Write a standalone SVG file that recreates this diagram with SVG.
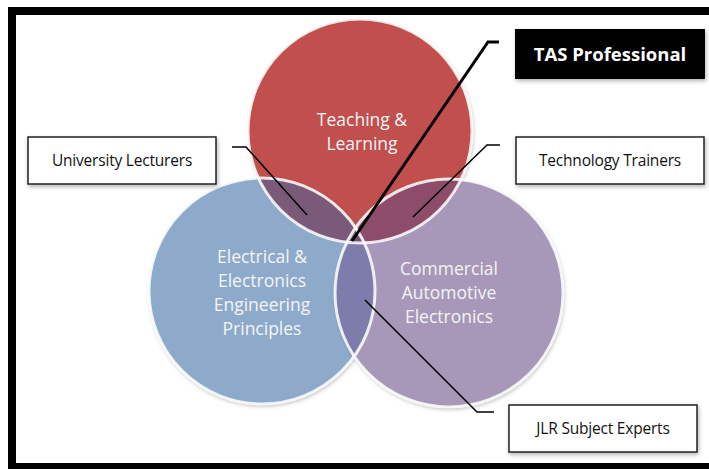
<svg xmlns="http://www.w3.org/2000/svg" width="709" height="469" viewBox="0 0 709 469">
<defs>
<style>
.lbl{font-family:"Open Sans","Liberation Sans",sans-serif;font-size:15.5px;fill:#111;text-anchor:middle;letter-spacing:-0.2px}
.ct{font-family:"Open Sans","Liberation Sans",sans-serif;font-size:17.5px;fill:#f4f4f4;text-anchor:middle}
.box{fill:#fff;stroke:#222;stroke-width:1.5}
.ring{fill:none;stroke:#fff;stroke-opacity:0.85;stroke-width:3}
.con{fill:none;stroke:#000;stroke-width:1.5}
.con.thick{stroke-width:3}
</style>
<filter id="sh" x="-10%" y="-10%" width="130%" height="130%">
<feDropShadow dx="1" dy="2" stdDeviation="2" flood-color="#000" flood-opacity="0.3"/>
</filter>
<clipPath id="cR"><circle cx="360" cy="131" r="112"/></clipPath>
<clipPath id="cB"><circle cx="262" cy="291" r="113"/></clipPath>
<clipPath id="cP"><circle cx="449" cy="293" r="114"/></clipPath>
</defs>
<rect x="0" y="0" width="709" height="469" fill="#fff"/>
<rect x="12" y="11" width="714" height="456" fill="#fff" stroke="#000" stroke-width="8"/>

<g id="circle-teaching">
<circle cx="360" cy="131" r="112" fill="#c0504d" filter="url(#sh)"/>
</g>
<g id="circle-electrical">
<circle cx="262" cy="291" r="113" fill="#8eaacb" filter="url(#sh)"/>
</g>
<g id="circle-commercial">
<circle cx="449" cy="293" r="114" fill="#a798ba" filter="url(#sh)"/>
</g>
<g id="overlaps">
<g clip-path="url(#cB)"><circle cx="360" cy="131" r="112" fill="#7a5a78"/></g>
<g clip-path="url(#cP)"><circle cx="360" cy="131" r="112" fill="#8e4c6b"/></g>
<g clip-path="url(#cP)"><circle cx="262" cy="291" r="113" fill="#7e7cab"/></g>
<g clip-path="url(#cR)"><g clip-path="url(#cB)"><circle cx="449" cy="293" r="114" fill="#6e5479"/></g></g>
</g>
<g id="rings">
<circle class="ring" cx="360" cy="131" r="112"/>
<circle class="ring" cx="262" cy="291" r="113"/>
<circle class="ring" cx="449" cy="293" r="114"/>
</g>
<g id="circle-texts">
<text class="ct" x="362" y="126">Teaching &amp;</text>
<text class="ct" x="362" y="150">Learning</text>
<text class="ct" x="262" y="263">Electrical &amp;</text>
<text class="ct" x="262" y="287">Electronics</text>
<text class="ct" x="262" y="311">Engineering</text>
<text class="ct" x="262" y="335">Principles</text>
<text class="ct" x="449" y="275">Commercial</text>
<text class="ct" x="449" y="299">Automotive</text>
<text class="ct" x="449" y="323">Electronics</text>
</g>

<g id="connectors">
<polyline class="con" points="232,147 246,147 307,215"/>
<polyline class="con" points="500,145 487,145 413,217"/>
<polyline class="con thick" points="499,42 488,42 352,241"/>
<polyline class="con" points="365,300 477,412 494,412"/>
</g>

<g id="node-university">
<rect class="box" x="28" y="137" width="188" height="47" filter="url(#sh)"/>
<text class="lbl" x="122" y="166">University Lecturers</text>
</g>
<g id="node-technology">
<rect class="box" x="516" y="137" width="188" height="47" filter="url(#sh)"/>
<text class="lbl" x="610" y="166">Technology Trainers</text>
</g>
<g id="node-tas">
<rect x="515" y="29" width="190" height="50" fill="#000" filter="url(#sh)"/>
<text x="610" y="61" font-family="'Open Sans','Liberation Sans',sans-serif" font-size="18.5" font-weight="bold" fill="#fff" text-anchor="middle">TAS Professional</text>
</g>
<g id="node-jlr">
<rect class="box" x="509" y="405" width="188" height="47" filter="url(#sh)"/>
<text class="lbl" x="603" y="434">JLR Subject Experts</text>
</g>
</svg>
